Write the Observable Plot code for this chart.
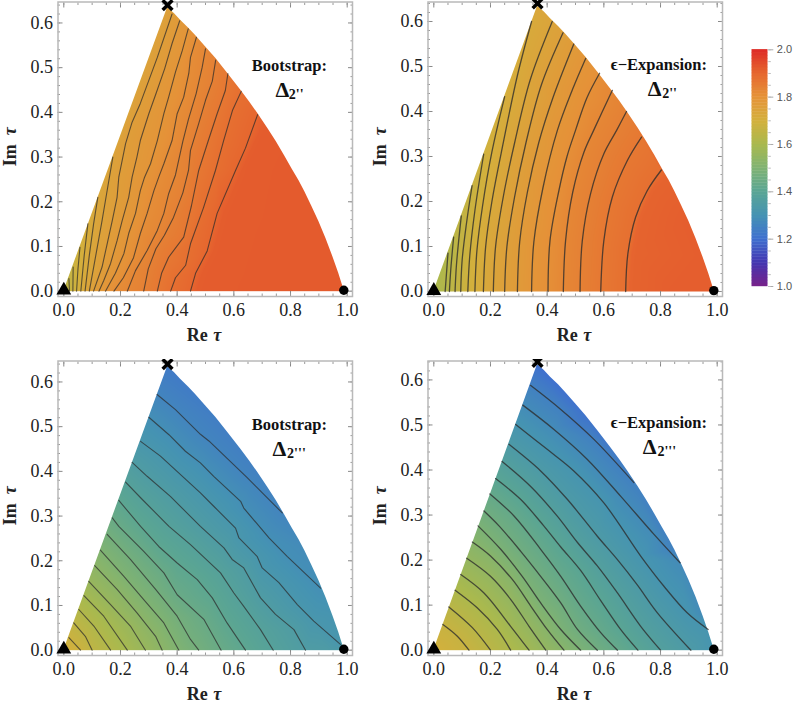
<!DOCTYPE html>
<html>
<head>
<meta charset="utf-8">
<script src="https://cdn.jsdelivr.net/npm/d3@7"></script>
<script src="https://cdn.jsdelivr.net/npm/@observablehq/plot@0.6"></script>
<style>
  body { margin: 0; background: white; }
  #chart { position: relative; width: 800px; height: 713px; overflow: hidden; }
  #chart svg { position: absolute; background: transparent; }
</style>
</head>
<body>
<div id="chart"></div>
<script>
// colour bar
const barStops = [1.0, 1.1, 1.2, 1.3, 1.4, 1.5, 1.6, 1.7, 1.8, 1.9, 2.0];
const barColors = ['#78228a', '#4335b0', '#3f70cf', '#4593b3', '#5aa594', '#80b372', '#aab94e', '#d4b03c', '#e59238', '#e6672f', '#dd2a26'];

// outline of the region in the tau plane, a little wider than the raster at both ends
const outlineX = [-0.005, 0, 0.366, 0.39, 0.412, 0.44, 0.465, 0.5, 0.536, 0.58, 0.624, 0.655, 0.684, 0.72, 0.75, 0.78, 0.806, 0.83, 0.85, 0.875, 0.9, 0.925, 0.95, 0.97, 0.99, 1.005];
const outlineY = [0, 0, 0.634, 0.621, 0.606, 0.589, 0.572, 0.547, 0.521, 0.486, 0.45, 0.424, 0.398, 0.364, 0.334, 0.302, 0.273, 0.247, 0.223, 0.19, 0.156, 0.118, 0.076, 0.04, 0, 0];

// Bootstrap, Delta 2''
const aLevels = [1.66, 1.68, 1.695, 1.71, 1.73, 1.745, 1.76, 1.775, 1.79, 1.81, 1.825, 1.84, 1.86, 1.88, 1.90];
const aLines = [
  [[.02,0],[.018,.028]],
  [[.032,0],[.033,.054]],
  [[.045,0],[.05,.05],[.057,.098]],
  [[.06,0],[.072,.08],[.085,.151]],
  [[.075,0],[.09,.08],[.105,.15],[.12,.21]],
  [[.09,0],[.118,.098],[.135,.158],[.151,.218],[.173,.3]],
  [[.105,0],[.135,.054],[.153,.106],[.171,.158],[.188,.21],[.194,.255],[.218,.33],[.241,.378],[.27,.42],[.33,.523],[.382,.62]],
  [[.124,0],[.141,.024],[.165,.062],[.188,.113],[.206,.158],[.229,.21],[.241,.255],[.258,.30],[.27,.337],[.3,.397],[.327,.445],[.356,.498],[.382,.554],[.409,.605]],
  [[.147,0],[.182,.04],[.212,.084],[.229,.129],[.253,.174],[.27,.225],[.285,.255],[.306,.285],[.33,.337],[.353,.397],[.37,.434],[.394,.49],[.418,.538],[.439,.587]],
  [[.177,0],[.21,.03],[.246,.075],[.27,.129],[.294,.174],[.318,.225],[.335,.255],[.353,.285],[.382,.337],[.4,.397],[.423,.434],[.441,.487],[.447,.523],[.468,.568]],
  [[.224,0],[.253,.046],[.294,.091],[.33,.136],[.353,.174],[.37,.218],[.394,.26],[.42,.335],[.44,.385],[.467,.442],[.488,.5],[.5,.542]],
  [[.282,0],[.298,.05],[.325,.095],[.355,.125],[.387,.165],[.42,.22],[.44,.27],[.447,.315],[.476,.375],[.5,.427],[.524,.47],[.536,.517]],
  [[.33,0],[.345,.04],[.37,.076],[.423,.121],[.45,.19],[.476,.27],[.51,.337],[.541,.397],[.57,.449],[.579,.487]],
  [[.377,0],[.394,.03],[.43,.058],[.447,.106],[.493,.187],[.535,.27],[.564,.337],[.595,.404],[.626,.447]],
  [[.447,0],[.465,.04],[.506,.09],[.541,.174],[.606,.27],[.641,.32],[.684,.395]]
];
const aCorners = [[0,0,1.64],[.366,.634,1.75],[.99,0,1.92],[.85,0,1.92],[.7,0,1.92],[.806,.27,1.92],[.929,.113,1.92],[.75,.1,1.92],
  [.47,0,1.917],[.49,.04,1.917],[.53,.09,1.917],[.565,.174,1.917],[.63,.27,1.917],[.665,.32,1.917],[.705,.375,1.917]];

// Epsilon expansion, Delta 2''
const bLevels = [1.62, 1.64, 1.655, 1.67, 1.69, 1.705, 1.72, 1.74, 1.755, 1.77, 1.79, 1.805, 1.825, 1.84, 1.86, 1.88];
const bLines = [
  [[.04,0],[.05,.085]],
  [[.055,0],[.06,.05],[.07,.121]],
  [[.075,0],[.08,.06],[.097,.168]],
  [[.095,0],[.1,.07],[.115,.15],[.135,.235]],
  [[.12,0],[.127,.08],[.145,.18],[.176,.305]],
  [[.145,0],[.152,.09],[.172,.19],[.205,.31],[.25,.433]],
  [[.175,0],[.183,.1],[.205,.2],[.245,.33],[.295,.48],[.345,.6]],
  [[.21,0],[.218,.1],[.245,.21],[.285,.33],[.34,.47],[.418,.6]],
  [[.25,0],[.258,.1],[.285,.21],[.325,.33],[.38,.46],[.456,.575]],
  [[.295,0],[.303,.11],[.33,.22],[.37,.33],[.42,.43],[.494,.55]],
  [[.345,0],[.353,.11],[.385,.23],[.436,.358],[.49,.45],[.536,.518]],
  [[.403,0],[.41,.113],[.44,.22],[.47,.30],[.5,.358],[.54,.43],[.585,.485]],
  [[.457,0],[.465,.113],[.49,.22],[.53,.31],[.564,.358],[.63,.447]],
  [[.516,0],[.524,.113],[.553,.217],[.6,.306],[.645,.358],[.68,.40]],
  [[.589,0],[.6,.113],[.63,.21],[.683,.291],[.733,.343]],
  [[.677,0],[.685,.085],[.712,.165],[.753,.224],[.803,.27]]
];
const bCorners = [[0,0,1.60],[.366,.634,1.73],[.99,0,1.915],[.85,0,1.915],[.9,.158,1.915],[.95,.078,1.915],
  [.692,0,1.905],[.70,.085,1.905],[.727,.165,1.905],[.768,.224,1.905],[.815,.258,1.905]];

// Bootstrap, Delta 2'''
const cLevels = [1.26, 1.29, 1.32, 1.35, 1.38, 1.41, 1.44, 1.47, 1.50, 1.53, 1.56, 1.59, 1.62, 1.65, 1.68];
const cLines = [
  [[.329,.572],[.394,.538],[.482,.483],[.512,.468],[.647,.386],[.771,.307]],
  [[.3,.521],[.371,.482],[.429,.445],[.482,.419],[.529,.389],[.624,.333],[.635,.318],[.724,.251],[.788,.21],[.906,.139]],
  [[.271,.467],[.341,.434],[.482,.352],[.529,.322],[.606,.273],[.618,.251],[.682,.21],[.7,.184],[.759,.151],[.824,.102],[.882,.065],[.976,.013]],
  [[.241,.42],[.294,.389],[.376,.344],[.482,.277],[.565,.229],[.594,.203],[.635,.184],[.694,.117],[.747,.08],[.812,.046],[.853,0]],
  [[.218,.376],[.271,.341],[.371,.277],[.447,.236],[.553,.173],[.6,.128],[.635,.098],[.694,.046],[.739,0]],
  [[.194,.335],[.271,.277],[.335,.232],[.4,.195],[.471,.158],[.524,.117],[.576,.061],[.641,0]],
  [[.171,.296],[.194,.277],[.282,.221],[.353,.173],[.4,.124],[.494,.069],[.555,0]],
  [[.153,.259],[.235,.203],[.324,.136],[.4,.076],[.447,.024],[.476,0]],
  [[.129,.224],[.212,.165],[.282,.113],[.353,.061],[.406,0]],
  [[.109,.189],[.188,.136],[.259,.083],[.324,.031],[.347,0]],
  [[.088,.154],[.165,.102],[.235,.054],[.288,0]],
  [[.071,.122],[.141,.076],[.224,0]],
  [[.053,.091],[.106,.054],[.165,0]],
  [[.035,.061],[.076,.031],[.1,0]],
  [[.018,.028],[.059,0]]
];
const cCorners = [[0,0,1.71],[.366,.634,1.23],[.536,.521,1.24],[.684,.395,1.25],[.99,0,1.34],[.93,0,1.345],[.95,.078,1.31],[.85,.225,1.28]];

// Epsilon expansion, Delta 2'''
const dLevels = [1.25, 1.28, 1.31, 1.34, 1.37, 1.40, 1.43, 1.46, 1.49, 1.52, 1.55, 1.58, 1.61, 1.64, 1.67];
const dLines = [
  [[.341,.588],[.447,.535],[.565,.468],[.706,.372]],
  [[.314,.544],[.424,.49],[.541,.424],[.659,.342],[.777,.257],[.869,.194]],
  [[.289,.501],[.4,.446],[.494,.398],[.6,.327],[.73,.209],[.812,.142],[.894,.083],[.968,.046]],
  [[.265,.457],[.377,.398],[.471,.335],[.577,.253],[.648,.201],[.718,.145],[.789,.083],[.907,0]],
  [[.241,.419],[.341,.364],[.435,.298],[.507,.239],[.577,.187],[.648,.127],[.73,.053],[.8,0]],
  [[.218,.381],[.306,.335],[.388,.276],[.448,.229],[.518,.177],[.589,.11],[.659,.046],[.72,0]],
  [[.198,.347],[.283,.298],[.377,.224],[.448,.164],[.518,.098],[.589,.039],[.648,0]],
  [[.177,.309],[.23,.276],[.306,.22],[.377,.164],[.448,.105],[.507,.046],[.577,0]],
  [[.156,.276],[.236,.224],[.312,.164],[.377,.105],[.448,.046],[.518,0]],
  [[.136,.24],[.2,.209],[.277,.157],[.342,.098],[.4,.046],[.459,0]],
  [[.116,.204],[.2,.164],[.271,.113],[.336,.053],[.395,0]],
  [[.095,.168],[.177,.127],[.271,.053],[.336,0]],
  [[.075,.133],[.153,.094],[.224,.046],[.271,0]],
  [[.053,.096],[.136,.05],[.2,0]],
  [[.032,.057],[.083,.031],[.124,0]]
];
const dCorners = [[0,0,1.70],[.366,.634,1.20],[.536,.521,1.21],[.99,0,1.31],[.95,.078,1.28],[.85,.225,1.25]];

const xMajor = [0, 0.2, 0.4, 0.6, 0.8, 1.0];
const xMinor = [0, 0.05, 0.1, 0.15, 0.2, 0.25, 0.3, 0.35, 0.4, 0.45, 0.5, 0.55, 0.6, 0.65, 0.7, 0.75, 0.8, 0.85, 0.9, 0.95, 1.0];
const yMajor = [0, 0.1, 0.2, 0.3, 0.4, 0.5, 0.6];
const yMinor = [0, 0.02, 0.04, 0.06, 0.08, 0.1, 0.12, 0.14, 0.16, 0.18, 0.2, 0.22, 0.24, 0.26, 0.28, 0.3, 0.32, 0.34, 0.36, 0.38, 0.4, 0.42, 0.44, 0.46, 0.48, 0.5, 0.52, 0.54, 0.56, 0.58, 0.6, 0.62, 0.64];

const colorScale = { type: 'linear', domain: barStops, range: barColors, interpolate: 'rgb' };
const outline = outlineX.map((x, i) => ({ x, y: outlineY[i] }));
const serif = '"Liberation Serif", serif';

function panel({ left, top, yDomain, levels, lines, corners, title, titleX, sub, deltaX, subX, lineWidth, lineOpacity, curve }) {
  const rows = lines.flatMap((line, i) => line.map(([x, y]) => ({ x, y, v: levels[i], id: i })));
  const points = rows.concat(corners.map(([x, y, v]) => ({ x, y, v })));

  const chart = Plot.plot({
    width: 370,
    height: 345,
    marginLeft: 57.5,
    marginRight: 18,
    marginTop: 1.5,
    marginBottom: 49,
    x: { domain: [-0.0205, 1.0187] },
    y: { domain: yDomain },
    color: colorScale,
    style: { fontFamily: serif, fontSize: '18px', color: '#222', background: 'transparent' },
    marks: [
      Plot.raster(points, {
        x: 'x', y: 'y', fill: 'v',
        x1: 0, x2: 0.99, y1: 0, y2: 0.634,
        interpolate: 'barycentric',
        pixelSize: 0.5
      }),
      // white above the region hides the raster outside of it
      Plot.areaY(outline, { x: 'x', y1: 'y', y2: 0.64, fill: 'white' }),
      Plot.line(rows, { x: 'x', y: 'y', z: 'id', stroke: '#2b2b2b', strokeOpacity: lineOpacity, strokeWidth: lineWidth, curve }),

      Plot.axisX({ anchor: 'bottom', ticks: xMajor, tickSize: -5, stroke: '#888', text: null, label: null }),
      Plot.axisX({ anchor: 'bottom', ticks: xMinor, tickSize: -2.5, stroke: '#999', text: null, label: null }),
      Plot.axisX({ anchor: 'top', ticks: xMajor, tickSize: -5, stroke: '#888', text: null, label: null }),
      Plot.axisX({ anchor: 'top', ticks: xMinor, tickSize: -2.5, stroke: '#999', text: null, label: null }),
      Plot.axisY({ anchor: 'left', ticks: yMajor, tickSize: -5, stroke: '#888', text: null, label: null }),
      Plot.axisY({ anchor: 'left', ticks: yMinor, tickSize: -2.5, stroke: '#999', text: null, label: null }),
      Plot.axisY({ anchor: 'right', ticks: yMajor, tickSize: -5, stroke: '#888', text: null, label: null }),
      Plot.axisY({ anchor: 'right', ticks: yMinor, tickSize: -2.5, stroke: '#999', text: null, label: null }),
      Plot.axisX({ anchor: 'bottom', ticks: xMajor, tickSize: 0, tickPadding: 7, tickFormat: '.1f', label: null, fontSize: 18 }),
      Plot.axisY({ anchor: 'left', ticks: yMajor, tickSize: 0, tickPadding: 5, tickFormat: '.1f', label: null, fontSize: 18 }),
      Plot.frame({ stroke: '#b9b9b9', strokeWidth: 1.5 }),

      Plot.text(['Re'], { frameAnchor: 'bottom', dx: -8, dy: 44, fontSize: 18, fontWeight: 'bold', fontFamily: serif }),
      Plot.text(['τ'], { frameAnchor: 'bottom', dx: 12, dy: 44, fontSize: 18, fontWeight: 'bold', fontStyle: 'italic', fontFamily: serif }),
      Plot.text(['Im'], { frameAnchor: 'left', dx: -48, dy: 17, rotate: -90, fontSize: 18, fontWeight: 'bold', fontFamily: serif }),
      Plot.text(['τ'], { frameAnchor: 'left', dx: -48, dy: -14, rotate: -90, fontSize: 18, fontWeight: 'bold', fontStyle: 'italic', fontFamily: serif }),

      Plot.text([title], { x: titleX, y: 0.505, fontSize: 16.5, fontWeight: 'bold', fontFamily: serif, fill: '#111' }),
      Plot.text(['Δ'], { x: deltaX, y: 0.451, fontSize: 22, fontWeight: 'bold', fontFamily: serif, fill: '#111' }),
      Plot.text([sub], { x: subX, y: 0.44, textAnchor: 'start', fontSize: 14, fontWeight: 'bold', fontFamily: serif, fill: '#111' }),

      Plot.dot([[0, 0.002]], { x: d => d[0], y: d => d[1], symbol: 'triangle', r: 5.5, fill: 'black' }),
      Plot.dot([[0.366, 0.64]], { x: d => d[0], y: d => d[1], symbol: 'times', r: 4.5, stroke: 'black', strokeWidth: 3.5 }),
      Plot.dot([[0.988, 0.002]], { x: d => d[0], y: d => d[1], r: 4.7, fill: 'black' })
    ]
  });
  chart.style.left = left + 'px';
  chart.style.top = top + 'px';
  return chart;
}

const root = document.getElementById('chart');
root.append(panel({ left: 0, top: 0, yDomain: [-0.0119, 0.6469], levels: aLevels, lines: aLines, corners: aCorners, title: 'Bootstrap:', titleX: 0.796, sub: "2''", deltaX: 0.771, subX: 0.794, lineWidth: 1.1, lineOpacity: 0.72, curve: 'linear' }));
root.append(panel({ left: 369.9, top: 0, yDomain: [-0.0111, 0.6433], levels: bLevels, lines: bLines, corners: bCorners, title: 'ϵ−Expansion:', titleX: 0.794, sub: "2''", deltaX: 0.779, subX: 0.806, lineWidth: 1.3, lineOpacity: 0.78, curve: 'catmull-rom' }));
root.append(panel({ left: 0, top: 358.5, yDomain: [-0.0119, 0.6469], levels: cLevels, lines: cLines, corners: cCorners, title: 'Bootstrap:', titleX: 0.796, sub: "2'''", deltaX: 0.761, subX: 0.788, lineWidth: 1.1, lineOpacity: 0.72, curve: 'linear' }));
root.append(panel({ left: 369.9, top: 358.5, yDomain: [-0.0118, 0.642], levels: dLevels, lines: dLines, corners: dCorners, title: 'ϵ−Expansion:', titleX: 0.794, sub: "2'''", deltaX: 0.762, subX: 0.789, lineWidth: 1.3, lineOpacity: 0.78, curve: 'catmull-rom' }));

// colour bar
const barLevels = d3.range(1, 2, 0.0125);
const bar = Plot.plot({
  width: 80,
  height: 270,
  marginLeft: 31.7,
  marginRight: 32.7,
  marginTop: 19.3,
  marginBottom: 14,
  x: { axis: null, domain: [0, 1] },
  y: { domain: [1, 2] },
  color: colorScale,
  style: { fontFamily: '"Liberation Sans", sans-serif', fontSize: '11px', color: '#555', background: 'transparent' },
  marks: [
    Plot.rect(barLevels, { x1: 0, x2: 1, y1: d => d, y2: d => d + 0.0125, fill: d => d + 0.00625, inset: -0.2 }),
    Plot.axisY({ anchor: 'right', ticks: [1, 1.2, 1.4, 1.6, 1.8, 2], tickSize: 5, stroke: '#aaa', tickPadding: 4, tickFormat: '.1f', label: null, fontSize: 11, fill: '#555' }),
    Plot.axisY({ anchor: 'right', ticks: d3.range(1, 2.01, 0.05), tickSize: 2.5, stroke: '#bbb', text: null, label: null })
  ]
});
bar.style.left = '720px';
bar.style.top = '30px';
root.append(bar);
</script>
</body>
</html>
